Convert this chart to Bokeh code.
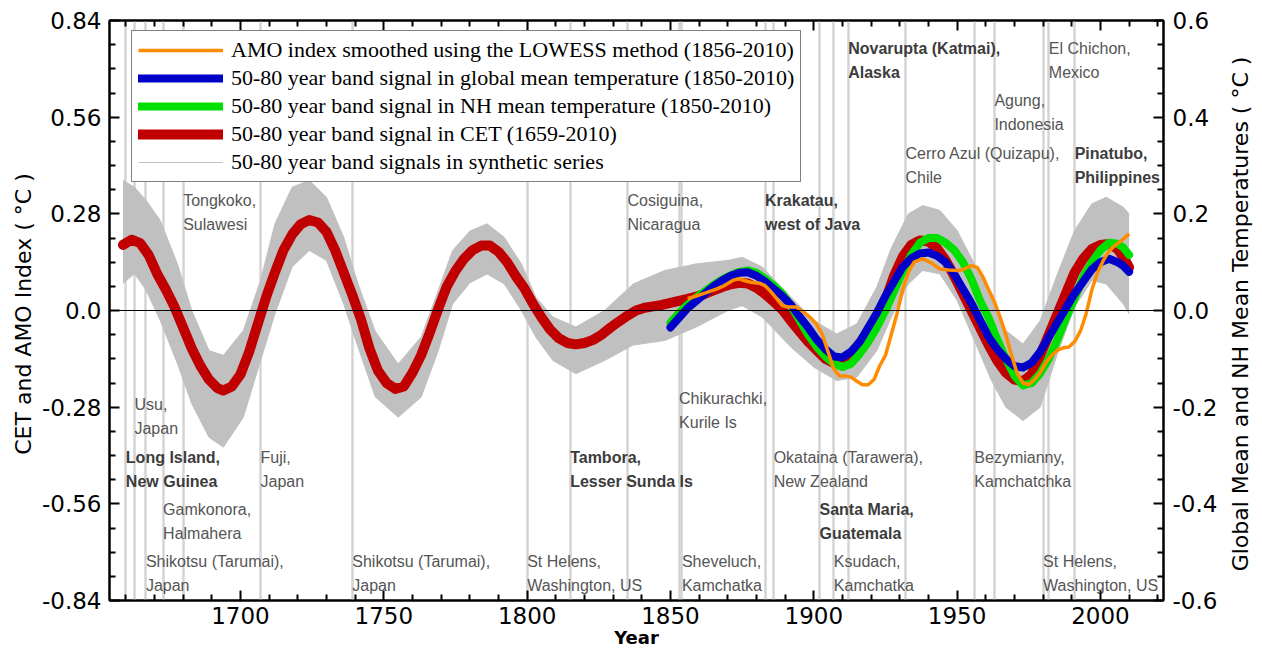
from bokeh.plotting import figure
from bokeh.layouts import row
from bokeh.models import Range1d, LinearAxis, FixedTicker, Legend, LegendItem, Span, Title
from bokeh.core.properties import value
from bokeh.embed import file_html
from bokeh.resources import INLINE

# ---------------- data ----------------
cet_years = [1659, 1662, 1665, 1668, 1671, 1674, 1677, 1680, 1683, 1686, 1689, 1692, 1694, 1697,
             1700, 1703, 1706, 1709, 1712, 1715, 1718, 1721, 1724, 1727, 1730, 1733, 1736, 1739,
             1742, 1745, 1748, 1751, 1754, 1757, 1760, 1763, 1766, 1769, 1772, 1775, 1778, 1781,
             1784, 1787, 1790, 1793, 1796, 1799, 1802, 1805, 1808, 1811, 1814, 1817, 1820, 1823,
             1826, 1829, 1832, 1835, 1838, 1841, 1844, 1847, 1850, 1853, 1856, 1859, 1862, 1865,
             1868, 1871, 1874, 1877, 1880, 1883, 1886, 1889, 1892, 1895, 1898, 1901, 1904, 1907,
             1910, 1913, 1916, 1919, 1922, 1925, 1928, 1931, 1934, 1937, 1940, 1943, 1946, 1949,
             1952, 1955, 1958, 1961, 1964, 1967, 1970, 1973, 1976, 1979, 1982, 1985, 1988, 1991,
             1994, 1997, 2000, 2003, 2006, 2008, 2010]
cet_vals = [0.19, 0.205, 0.195, 0.16, 0.105, 0.06, 0.01, -0.05, -0.11, -0.16, -0.2, -0.225, -0.232, -0.22,
            -0.185, -0.12, -0.04, 0.04, 0.11, 0.175, 0.22, 0.25, 0.262, 0.255, 0.228, 0.175, 0.11, 0.045,
            -0.025, -0.11, -0.175, -0.21, -0.227, -0.22, -0.18, -0.13, -0.065, 0.005, 0.07, 0.115, 0.15, 0.175,
            0.188, 0.188, 0.17, 0.14, 0.1, 0.065, 0.02, -0.02, -0.055, -0.08, -0.094, -0.098, -0.094, -0.085,
            -0.07, -0.05, -0.032, -0.015, 0.0, 0.008, 0.012, 0.016, 0.022, 0.028, 0.034, 0.04, 0.048, 0.058,
            0.068, 0.076, 0.08, 0.078, 0.066, 0.048, 0.026, 0.003, -0.03, -0.06, -0.09, -0.115, -0.14, -0.152,
            -0.15, -0.13, -0.095, -0.065, -0.03, 0.03, 0.1, 0.155, 0.19, 0.203, 0.2, 0.18, 0.145, 0.1,
            0.05, 0.0, -0.05, -0.1, -0.145, -0.18, -0.2, -0.205, -0.185, -0.13, -0.07, -0.01, 0.05, 0.11,
            0.15, 0.178, 0.19, 0.193, 0.178, 0.155, 0.125]

mod_years = [1850, 1853, 1856, 1859, 1862, 1865, 1868, 1871, 1874, 1877, 1880, 1883, 1886, 1889,
             1892, 1895, 1898, 1901, 1904, 1907, 1910, 1913, 1916, 1919, 1922, 1925, 1928, 1931,
             1934, 1937, 1940, 1943, 1946, 1949, 1952, 1955, 1958, 1961, 1964, 1967, 1970, 1973,
             1976, 1979, 1982, 1985, 1988, 1991, 1994, 1997, 2000, 2003, 2006, 2008, 2010]
global_vals = [-0.035, -0.015, 0.005, 0.02, 0.035, 0.05, 0.062, 0.072, 0.078, 0.079, 0.072, 0.06, 0.045, 0.03,
               0.012, -0.012, -0.035, -0.06, -0.08, -0.095, -0.097, -0.085, -0.065, -0.035, -0.005, 0.03, 0.06, 0.09,
               0.108, 0.118, 0.12, 0.113, 0.1, 0.075, 0.045, 0.015, -0.02, -0.055, -0.08, -0.1, -0.115, -0.118,
               -0.108, -0.085, -0.055, -0.025, 0.005, 0.035, 0.06, 0.085, 0.1, 0.107, 0.1, 0.092, 0.08]
nh_vals = [-0.025, -0.005, 0.012, 0.027, 0.04, 0.053, 0.064, 0.073, 0.08, 0.083, 0.078, 0.066, 0.052, 0.035,
           0.01, -0.02, -0.05, -0.075, -0.095, -0.11, -0.117, -0.11, -0.09, -0.065, -0.035, 0.0, 0.04, 0.08,
           0.115, 0.14, 0.15, 0.15, 0.14, 0.125, 0.1, 0.065, 0.02, -0.015, -0.06, -0.1, -0.135, -0.155,
           -0.15, -0.13, -0.1, -0.06, -0.015, 0.025, 0.07, 0.1, 0.125, 0.14, 0.138, 0.13, 0.115]

amo_years = [1856, 1859, 1863, 1866, 1869, 1872, 1874, 1876, 1878, 1881, 1883, 1885, 1887, 1889, 1891,
             1894, 1897, 1899, 1901, 1903, 1905, 1907, 1909, 1911, 1913, 1915, 1917, 1919, 1921, 1923,
             1925, 1927, 1929, 1931, 1933, 1935, 1938, 1941, 1944, 1947, 1950, 1952, 1955, 1957, 1959,
             1961, 1963, 1965, 1967, 1969, 1971, 1973, 1975, 1977, 1979, 1981, 1983, 1985, 1987, 1989,
             1991, 1993, 1995, 1997, 1999, 2001, 2003, 2005, 2007, 2010]
amo_vals = [0.034, 0.042, 0.053, 0.062, 0.073, 0.088, 0.092, 0.086, 0.082, 0.079, 0.072, 0.055, 0.035, 0.014, 0.01,
            0.01, -0.008, -0.022, -0.04, -0.07, -0.12, -0.17, -0.19, -0.19, -0.193, -0.205, -0.215, -0.215, -0.2, -0.16,
            -0.13, -0.07, -0.01, 0.06, 0.11, 0.14, 0.15, 0.138, 0.12, 0.117, 0.116, 0.118, 0.13, 0.125, 0.097,
            0.06, 0.025, -0.02, -0.07, -0.13, -0.183, -0.21, -0.215, -0.2, -0.18, -0.15, -0.13, -0.115, -0.108, -0.106,
            -0.09, -0.06, -0.01, 0.06, 0.11, 0.145, 0.172, 0.188, 0.2, 0.222]

band_years = [1659, 1663, 1667, 1672, 1678, 1683, 1689, 1694, 1701, 1707, 1712, 1718, 1724, 1730, 1736,
              1741, 1747, 1755, 1763, 1769, 1774, 1780, 1786, 1792, 1798, 1803, 1809, 1817, 1827, 1837,
              1848, 1859, 1870, 1875, 1882, 1892, 1900, 1908, 1915, 1922, 1927, 1933, 1938, 1944, 1950,
              1956, 1962, 1967, 1973, 1979, 1985, 1991, 1997, 2002, 2008, 2010]
band_upper = [0.377, 0.357, 0.32, 0.261, 0.135, 0.0, -0.116, -0.13, -0.058, 0.087, 0.251, 0.357, 0.377, 0.328, 0.212,
              0.077, -0.06, -0.155, -0.077, 0.058, 0.174, 0.23, 0.251, 0.212, 0.135, 0.039, -0.019, -0.048, 0.0, 0.077,
              0.116, 0.135, 0.145, 0.154, 0.126, 0.039, -0.029, -0.068, -0.039, 0.068, 0.18, 0.28, 0.304, 0.29, 0.232,
              0.135, 0.039, -0.058, -0.097, -0.029, 0.106, 0.232, 0.309, 0.328, 0.299, 0.28]
band_lower = [0.078, 0.107, 0.06, -0.029, -0.154, -0.27, -0.367, -0.396, -0.309, -0.145, -0.01, 0.126, 0.174, 0.145, 0.019,
              -0.106, -0.25, -0.309, -0.251, -0.116, 0.019, 0.08, 0.106, 0.077, 0.0, -0.077, -0.145, -0.183, -0.145, -0.1,
              -0.087, -0.048, 0.0, 0.014, -0.019, -0.106, -0.164, -0.203, -0.193, -0.116, -0.02, 0.077, 0.116, 0.106, 0.029,
              -0.087, -0.203, -0.28, -0.319, -0.28, -0.125, 0.01, 0.087, 0.077, 0.019, -0.01]

volcano_years = [1680, 1663, 1660, 1707, 1673, 1667, 1739, 1800, 1815, 1835, 1853, 1854,
                 1883, 1886, 1902, 1907, 1912, 1932, 1956, 1963, 1980, 1982, 1991]
volcano_line1 = ["Tongkoko,", "Usu,", "Long Island,", "Fuji,", "Gamkonora,", "Shikotsu (Tarumai),",
                 "Shikotsu (Tarumai),", "St Helens,", "Tambora,", "Cosiguina,", "Chikurachki,", "Sheveluch,",
                 "Krakatau,", "Okataina (Tarawera),", "Santa Maria,", "Ksudach,", "Novarupta (Katmai),",
                 "Cerro Azul (Quizapu),", "Bezymianny,", "Agung,", "St Helens,", "El Chichon,", "Pinatubo,"]
volcano_line2 = ["Sulawesi", "Japan", "New Guinea", "Japan", "Halmahera", "Japan",
                 "Japan", "Washington, US", "Lesser Sunda Is", "Nicaragua", "Kurile Is", "Kamchatka",
                 "west of Java", "New Zealand", "Guatemala", "Kamchatka", "Alaska",
                 "Chile", "Kamchatchka", "Indonesia", "Washington, US", "Mexico", "Philippines"]
volcano_bold = [False, False, True, False, False, False, False, False, True, False, False, False,
                True, False, True, False, True, False, False, False, False, False, True]

# label placement (layout, in left-axis units)
label_y = [0.3186, -0.2723, -0.4258, -0.4258, -0.5764, -0.7270, -0.7270, -0.7270, -0.4258, 0.3186, -0.2549, -0.7270,
           0.3186, -0.4258, -0.5764, -0.7270, 0.7589, 0.4548, -0.4258, 0.6083, -0.7270, 0.7589, 0.4548]
LINE_STEP = 0.0695

left_ticks = [-0.84, -0.56, -0.28, 0.0, 0.28, 0.56, 0.84]
left_labels = ["-0.84", "-0.56", "-0.28", "0.0", "0.28", "0.56", "0.84"]
left_minor = [-0.77, -0.7, -0.63, -0.49, -0.42, -0.35, -0.21, -0.14, -0.07,
              0.07, 0.14, 0.21, 0.35, 0.42, 0.49, 0.63, 0.7, 0.77]
right_ticks = [-0.6, -0.4, -0.2, 0.0, 0.2, 0.4, 0.6]
right_labels = ["-0.6", "-0.4", "-0.2", "0.0", "0.2", "0.4", "0.6"]
right_minor = [-0.55, -0.5, -0.45, -0.35, -0.3, -0.25, -0.15, -0.1, -0.05,
               0.05, 0.1, 0.15, 0.25, 0.3, 0.35, 0.45, 0.5, 0.55]
x_ticks = [1700, 1750, 1800, 1850, 1900, 1950, 2000]
x_minor = [1660, 1670, 1680, 1690, 1710, 1720, 1730, 1740, 1760, 1770, 1780, 1790, 1810, 1820, 1830,
           1840, 1860, 1870, 1880, 1890, 1910, 1920, 1930, 1940, 1960, 1970, 1980, 1990, 2010, 2020]

# ---------------- figure ----------------
p = figure(width=1225, height=657, x_range=Range1d(1654.3, 2022), y_range=Range1d(-0.84, 0.84),
           output_backend="svg", toolbar_location=None,
           min_border_left=109, min_border_right=62, min_border_top=20, min_border_bottom=57)
p.extra_y_ranges = {"right": Range1d(-0.6, 0.6)}
p.grid.visible = False
p.outline_line_color = "black"
p.outline_line_width = 2
p.background_fill_color = "white"
p.border_fill_color = "white"

TICK_FONT = "DejaVu Sans"


def style_axis(ax, label_size="23px"):
    ax.axis_line_color = "black"
    ax.axis_line_width = 2
    ax.major_tick_in = 10
    ax.major_tick_out = 0
    ax.minor_tick_in = 6
    ax.minor_tick_out = 0
    ax.major_tick_line_width = 2
    ax.minor_tick_line_width = 2
    ax.major_tick_line_color = "black"
    ax.minor_tick_line_color = "black"
    ax.major_label_text_font = TICK_FONT
    ax.major_label_text_font_size = label_size
    ax.major_label_text_color = "black"
    ax.axis_label_text_font = TICK_FONT
    ax.axis_label_text_font_style = "normal"
    ax.axis_label_text_color = "black"


xa = p.xaxis[0]
style_axis(xa)
xa.ticker = FixedTicker(ticks=x_ticks, minor_ticks=x_minor)
xa.axis_label = "Year"
xa.axis_label_text_font_style = "bold"
xa.axis_label_text_font_size = "18px"
xa.major_label_standoff = 6
xa.axis_label_standoff = 0

ya = p.yaxis[0]
style_axis(ya)
ya.ticker = FixedTicker(ticks=left_ticks, minor_ticks=left_minor)
ya.major_label_overrides = dict(zip(left_ticks, left_labels))
ya.axis_label = "CET and AMO Index  ( °C )"
ya.axis_label_text_font_size = "22px"
ya.major_label_standoff = 8
ya.axis_label_standoff = 3

ra = LinearAxis(y_range_name="right")
style_axis(ra)
ra.ticker = FixedTicker(ticks=right_ticks, minor_ticks=right_minor)
ra.major_label_overrides = dict(zip(right_ticks, right_labels))
ra.major_label_standoff = 9
p.add_layout(ra, "right")

ta = LinearAxis()
style_axis(ta, label_size="1px")
ta.major_label_text_color = None
ta.ticker = FixedTicker(ticks=x_ticks, minor_ticks=x_minor)
ta.major_label_standoff = 0
p.add_layout(ta, "above")

# ---------------- glyphs ----------------
p.vspan(x=volcano_years, line_color="#d4d4d4", line_width=2.5)
p.add_layout(Span(location=0, dimension="width", line_color="black", line_width=1))

p.varea(x=band_years, y1=band_lower, y2=band_upper, fill_color="#c0c0c0")
r_syn = p.line(band_years, band_upper, line_color="#c0c0c0", line_width=1)
p.line(band_years, band_lower, line_color="#c0c0c0", line_width=1)

r_cet = p.line(cet_years, cet_vals, line_color="#c00000", line_width=10, line_join="round", line_cap="round")
r_nh = p.line(mod_years, nh_vals, y_range_name="right", line_color="#00e000", line_width=8,
              line_join="round", line_cap="round")
r_gl = p.line(mod_years, global_vals, y_range_name="right", line_color="#0000c8", line_width=8,
              line_join="round", line_cap="round")
r_amo = p.line(amo_years, amo_vals, line_color="#ff8c00", line_width=3.5, line_join="round")

# volcano annotations
for bold in (False, True):
    idx = [i for i in range(len(volcano_years)) if volcano_bold[i] == bold]
    xs = [volcano_years[i] for i in idx]
    y1 = [label_y[i] for i in idx]
    y2 = [label_y[i] - LINE_STEP for i in idx]
    common = dict(text_font=value("Liberation Sans"), text_font_size="16px",
                  text_color="#3c3c3c" if bold else "#555555",
                  text_font_style="bold" if bold else "normal",
                  text_baseline="middle", text_align="left")
    p.text(x=xs, y=y1, text=[volcano_line1[i] for i in idx], **common)
    p.text(x=xs, y=y2, text=[volcano_line2[i] for i in idx], **common)

legend = Legend(items=[
    LegendItem(label="AMO index smoothed using the LOWESS method (1856-2010)", renderers=[r_amo]),
    LegendItem(label="50-80 year band signal in global mean temperature (1850-2010)", renderers=[r_gl]),
    LegendItem(label="50-80 year band signal in NH mean temperature (1850-2010)", renderers=[r_nh]),
    LegendItem(label="50-80 year band signal in CET (1659-2010)", renderers=[r_cet]),
    LegendItem(label="50-80 year band signals in synthetic series", renderers=[r_syn]),
], location=(22, 418))
legend.label_text_font = "Liberation Serif"
legend.label_text_font_size = "22px"
legend.label_text_color = "black"
legend.glyph_width = 85
legend.glyph_height = 20
legend.label_height = 20
legend.spacing = 2
legend.padding = 6
legend.label_standoff = 8
legend.margin = 0
legend.border_line_color = "black"
legend.border_line_width = 1.5
legend.background_fill_color = "white"
legend.background_fill_alpha = 1
p.add_layout(legend)

# narrow strip carrying the right-hand axis title, reading bottom-to-top
p2 = figure(width=37, height=657, output_backend="svg", toolbar_location=None,
            x_axis_location=None, y_axis_location=None,
            min_border_left=0, min_border_right=0, min_border_top=20, min_border_bottom=57)
p2.grid.visible = False
p2.outline_line_color = None
p2.background_fill_color = "white"
p2.border_fill_color = "white"
p2.add_layout(Title(text="Global Mean and NH Mean Temperatures  ( °C )", align="center",
                    text_font="DejaVu Sans", text_font_size="22px", text_font_style="normal",
                    text_color="black", standoff=0, offset=0), "left")

open("out.html", "w").write(file_html(row(p, p2, spacing=0), INLINE))
